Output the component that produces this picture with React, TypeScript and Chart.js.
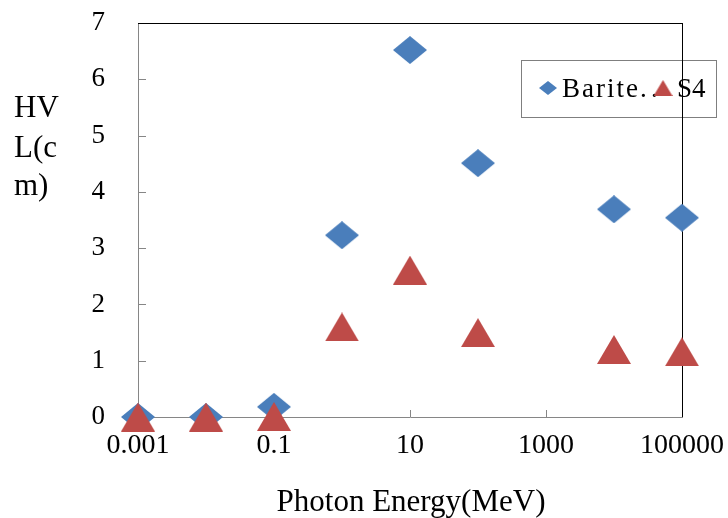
import React, { useEffect, useRef } from 'react';
import { Chart, registerables } from 'chart.js';

Chart.register(...registerables);

const energies = [0.001, 0.01, 0.1, 1, 10, 100, 10000, 100000];
const bariteHVL = [0, 0, 0.18, 3.23, 6.52, 4.51, 3.69, 3.54];
const s4HVL = [0, 0, 0.01, 1.6, 2.61, 1.5, 1.2, 1.16];
const xTickValues = [0.001, 0.1, 10, 1000, 100000];
const yTickValues = [0, 1, 2, 3, 4, 5, 6, 7];
const seriesNames = ['Barite.', 'S4'];
const xTitle = 'Photon Energy(MeV)';
const yTitleLines = ['HV', 'L(c', 'm)'];

const BLUE = '#4A7EBB';
const RED = '#BE4B48';
const FONT = '"Liberation Serif", "Times New Roman", serif';

function makeMarker(kind: string, w: number, h: number, color: string) {
  const c = document.createElement('canvas');
  c.width = w;
  c.height = h;
  const ctx = c.getContext('2d')!;
  ctx.fillStyle = color;
  ctx.beginPath();
  if (kind === 'diamond') {
    ctx.moveTo(w / 2, 0);
    ctx.lineTo(w, h / 2);
    ctx.lineTo(w / 2, h);
    ctx.lineTo(0, h / 2);
  } else {
    ctx.moveTo(w / 2, 0);
    ctx.lineTo(w, h);
    ctx.lineTo(0, h);
  }
  ctx.closePath();
  ctx.fill();
  return c;
}

const decorPlugin = {
  id: 'decor',
  beforeDatasetsDraw(chart: any) {
    const { ctx, chartArea, scales } = chart;
    const { left, right, top, bottom } = chartArea;
    ctx.save();
    // inner tick marks
    ctx.strokeStyle = '#868686';
    ctx.lineWidth = 1;
    ctx.beginPath();
    yTickValues.forEach((v) => {
      const y = Math.round(scales.y.getPixelForValue(v)) + 0.5;
      ctx.moveTo(left, y);
      ctx.lineTo(left + 8, y);
    });
    xTickValues.forEach((v) => {
      const x = Math.round(scales.x.getPixelForValue(v)) + 0.5;
      ctx.moveTo(x, bottom);
      ctx.lineTo(x, bottom - 7);
    });
    ctx.stroke();

    // legend box
    const lx = 521, ly = 60, lw = 195, lh = 57;
    ctx.fillStyle = '#ffffff';
    ctx.fillRect(lx, ly, lw, lh);
    ctx.strokeStyle = '#7f7f7f';
    ctx.strokeRect(lx + 0.5, ly + 0.5, lw, lh);
    const dia = makeMarker('diamond', 18, 14, BLUE);
    ctx.drawImage(dia, 548 - 9, 88 - 7);
    ctx.fillStyle = '#000';
    ctx.font = `27px ${FONT}`;
    ctx.textBaseline = 'alphabetic';
    ctx.textAlign = 'left';
    (ctx as any).letterSpacing = '2px';
    ctx.fillText(seriesNames[0], 562, 97);
    (ctx as any).letterSpacing = '0px';
    ctx.fillText('.', 651, 97);
    const tri = makeMarker('triangle', 19, 16, RED);
    ctx.drawImage(tri, 663 - 9.5, 88 - 8);
    ctx.fillText(seriesNames[1], 677, 97);

    // top and right frame lines
    ctx.strokeStyle = '#000';
    ctx.beginPath();
    ctx.moveTo(left, Math.round(top) + 0.5);
    ctx.lineTo(right, Math.round(top) + 0.5);
    ctx.moveTo(Math.round(right) + 0.5, top);
    ctx.lineTo(Math.round(right) + 0.5, bottom);
    ctx.stroke();

    // axis titles
    ctx.fillStyle = '#000';
    ctx.font = `31px ${FONT}`;
    ctx.textAlign = 'left';
    const bases = [117, 157, 195];
    yTitleLines.forEach((t, i) => ctx.fillText(t, 14, bases[i]));
    ctx.font = `31px ${FONT}`;
    ctx.textAlign = 'center';
    ctx.fillText(xTitle, (left + right) / 2 + 1, 511);
    ctx.restore();
  },
};

export default function App() {
  const ref = useRef<HTMLCanvasElement | null>(null);
  useEffect(() => {
    if (!ref.current) return;
    const diamond = makeMarker('diamond', 34, 28, BLUE);
    const triangle = makeMarker('triangle', 34, 29, RED);
    const chart = new Chart(ref.current, {
      type: 'scatter',
      data: {
        datasets: [
          {
            label: seriesNames[0],
            data: energies.map((x, i) => ({ x, y: bariteHVL[i] })),
            pointStyle: diamond as any,
            backgroundColor: BLUE,
            borderColor: BLUE,
            clip: false as any,
            order: 1,
          },
          {
            label: seriesNames[1],
            data: energies.map((x, i) => ({ x, y: s4HVL[i] })),
            pointStyle: triangle as any,
            backgroundColor: RED,
            borderColor: RED,
            clip: false as any,
            order: 0,
          },
        ],
      },
      options: {
        animation: false,
        responsive: false,
        maintainAspectRatio: false,
        devicePixelRatio: 1,
        layout: { padding: { left: 0, top: 23, right: 46, bottom: 0 } },
        plugins: { legend: { display: false }, tooltip: { enabled: false } },
        scales: {
          x: {
            type: 'logarithmic',
            min: 0.001,
            max: 100000,
            afterBuildTicks: (scale: any) => {
              scale.ticks = xTickValues.map((v) => ({ value: v }));
            },
            afterFit: (scale: any) => {
              scale.height = 101;
              scale.paddingLeft = 0;
              scale.paddingRight = 0;
            },
            grid: { display: false },
            border: { display: true, color: '#868686', width: 1 },
            ticks: {
              autoSkip: false,
              maxRotation: 0,
              padding: 4,
              color: '#000',
              font: { family: FONT, size: 28 },
              callback: (v: any) => String(v),
            },
          },
          y: {
            type: 'linear',
            min: 0,
            max: 7,
            afterBuildTicks: (scale: any) => {
              scale.ticks = yTickValues.map((v) => ({ value: v }));
            },
            afterFit: (scale: any) => {
              scale.width = 138;
              scale.paddingTop = 0;
              scale.paddingBottom = 0;
            },
            grid: { display: false },
            border: { display: true, color: '#868686', width: 1 },
            ticks: {
              padding: 25,
              color: '#000',
              font: { family: FONT, size: 27 },
              callback: (v: any) => String(v),
            },
          },
        },
      },
      plugins: [decorPlugin],
    } as any);
    return () => chart.destroy();
  }, []);
  return (
    <div style={{ position: 'absolute', left: 0, top: 0, width: 728, height: 518, background: '#fff' }}>
      <canvas ref={ref} width={728} height={518} style={{ width: 728, height: 518 }} />
    </div>
  );
}
